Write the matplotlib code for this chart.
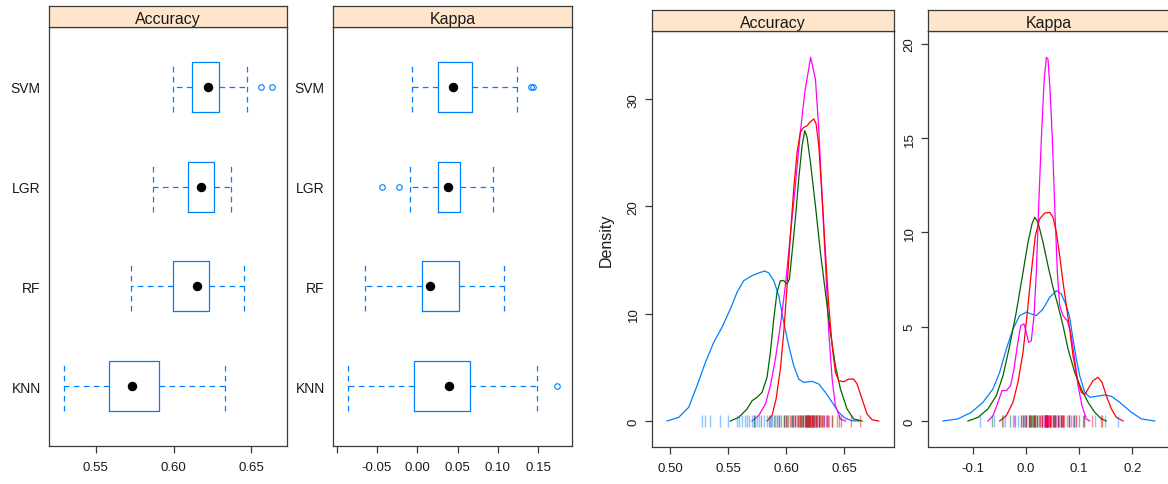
import matplotlib
matplotlib.use("Agg")
import matplotlib.pyplot as plt

plt.rcParams['font.family'] = ['Liberation Sans', 'DejaVu Sans']
plt.rcParams['axes.unicode_minus'] = False

# modelos de abajo hacia arriba en el bwplot
modelos = ['KNN', 'RF', 'LGR', 'SVM']

# resumen de cajas - Accuracy
acc_whislo = [0.5295, 0.5727, 0.5867, 0.5999]
acc_q1 = [0.5587, 0.5999, 0.6092, 0.6118]
acc_med = [0.5731, 0.6151, 0.6175, 0.6222]
acc_q3 = [0.5907, 0.6227, 0.6260, 0.6293]
acc_whishi = [0.6331, 0.6452, 0.6367, 0.6471]
acc_out = [[], [], [], [0.6561, 0.6633]]

# resumen de cajas - Kappa
kap_whislo = [-0.0858, -0.0643, -0.0092, -0.0060]
kap_q1 = [-0.0046, 0.0055, 0.0262, 0.0262]
kap_med = [0.0391, 0.0161, 0.0376, 0.0445]
kap_q3 = [0.0656, 0.0519, 0.0529, 0.0684]
kap_whishi = [0.1491, 0.1070, 0.0942, 0.1235]
kap_out = [[0.1731], [], [-0.0440, -0.0225], [0.1410, 0.1432]]

# curvas de densidad - Accuracy
knn_acc_x = [0.4974, 0.5075, 0.5161, 0.5233, 0.5305, 0.5377, 0.5448, 0.5520, 0.5578, 0.5635, 0.5707,
             0.5764, 0.5816, 0.5851, 0.5894, 0.5937, 0.5980, 0.6023, 0.6066, 0.6109, 0.6152, 0.6224,
             0.6282, 0.6339, 0.6397, 0.6454, 0.6511, 0.6569, 0.6627]
knn_acc_y = [0, 0.34, 1.28, 3.29, 5.46, 7.33, 8.73, 10.44, 12.0, 13.08, 13.55,
             13.80, 13.98, 13.80, 13.08, 11.69, 9.20, 7.02, 5.16, 3.91, 3.60, 3.70,
             3.45, 2.67, 1.74, 0.81, 0.25, 0.03, 0]
rf_acc_x = [0.5520, 0.5592, 0.5664, 0.5707, 0.5750, 0.5793, 0.5836, 0.5865, 0.5894, 0.5922, 0.5951,
            0.5980, 0.6009, 0.6029, 0.6052, 0.6080, 0.6109, 0.6138, 0.6161, 0.6181, 0.6210, 0.6253,
            0.6296, 0.6339, 0.6382, 0.6425, 0.6468, 0.6526, 0.6583, 0.6655]
rf_acc_y = [0, 0.34, 1.12, 1.89, 2.21, 2.67, 4.07, 6.41, 9.51, 12.0, 13.08,
            13.08, 12.77, 13.24, 15.72, 18.83, 22.55, 25.66, 27.06, 26.44, 24.11, 20.07,
            15.72, 12.0, 8.26, 5.16, 3.0, 1.12, 0.19, 0]
lgr_acc_x = [0.5707, 0.5764, 0.5822, 0.5865, 0.5908, 0.5951, 0.5994, 0.6037, 0.6080, 0.6123, 0.6161,
             0.6212, 0.6253, 0.6282, 0.6310, 0.6339, 0.6368, 0.6397, 0.6425, 0.6468, 0.6511]
lgr_acc_y = [0, 0.50, 1.58, 3.29, 5.78, 8.88, 12.61, 17.27, 21.93, 26.90, 30.63,
             33.9, 31.87, 27.21, 21.0, 14.79, 8.26, 3.91, 1.43, 0.19, 0]
svm_acc_x = [0.5836, 0.5879, 0.5914, 0.5951, 0.5980, 0.6009, 0.6037, 0.6066, 0.6095, 0.6123, 0.6152,
             0.6181, 0.6210, 0.6239, 0.6259, 0.6282, 0.6310, 0.6339, 0.6368, 0.6397, 0.6425, 0.6454,
             0.6497, 0.6540, 0.6583, 0.6612, 0.6655, 0.6698, 0.6741, 0.6799]
svm_acc_y = [0, 0.50, 2.05, 4.85, 8.26, 12.61, 17.27, 21.62, 25.04, 26.90, 27.37,
             27.52, 27.90, 28.15, 27.68, 25.66, 21.0, 15.72, 10.75, 7.02, 4.54, 3.76,
             3.66, 3.91, 3.91, 3.45, 2.05, 0.65, 0.12, 0]

# curvas de densidad - Kappa
knn_kap_x = [-0.1563, -0.1281, -0.1030, -0.0810, -0.0621, -0.0496, -0.0370, -0.0245, -0.0119, 0.0006,
             0.0100, 0.0195, 0.0320, 0.0446, 0.0571, 0.0665, 0.0759, 0.0822, 0.0885, 0.0948,
             0.1011, 0.1105, 0.1199, 0.1325, 0.1481, 0.1607, 0.1764, 0.1984, 0.2172, 0.2423]
knn_kap_y = [0, 0.11, 0.46, 0.99, 1.70, 2.58, 3.82, 4.88, 5.59, 5.77,
             5.68, 5.59, 5.94, 6.56, 6.91, 6.74, 6.12, 5.50, 4.35, 3.29,
             2.40, 1.52, 1.26, 1.31, 1.38, 1.31, 0.99, 0.46, 0.11, 0]
rf_kap_x = [-0.1092, -0.0904, -0.0716, -0.0559, -0.0433, -0.0307, -0.0183, -0.0056, 0.0038, 0.0113,
            0.0164, 0.0226, 0.0320, 0.0414, 0.0508, 0.0603, 0.0697, 0.0791, 0.0917, 0.1041,
            0.1168, 0.1294, 0.1418, 0.1512]
rf_kap_y = [0, 0.19, 0.64, 1.34, 2.40, 3.99, 5.77, 7.89, 9.48, 10.45,
            10.81, 10.54, 9.48, 8.24, 7.09, 6.12, 5.06, 3.82, 2.58, 1.70,
            0.99, 0.46, 0.11, 0]
lgr_kap_x = [-0.0716, -0.0621, -0.0527, -0.0452, -0.0370, -0.0289, -0.0226, -0.0163, -0.0100, -0.0038,
             0.0006, 0.0050, 0.0100, 0.0151, 0.0195, 0.0239, 0.0289, 0.0339, 0.0383, 0.0414,
             0.0452, 0.0496, 0.0540, 0.0590, 0.0634, 0.0697, 0.0778, 0.0841, 0.0917, 0.0979,
             0.1055, 0.1136, 0.1199]
lgr_kap_y = [0, 0.28, 0.99, 1.61, 1.61, 1.87, 2.76, 3.99, 5.06, 5.15,
             4.70, 4.17, 4.26, 5.59, 7.89, 11.42, 14.96, 17.97, 19.29, 19.20,
             17.61, 14.96, 11.42, 7.89, 6.12, 5.59, 5.32, 4.70, 3.29, 1.87,
             0.81, 0.11, 0]
svm_kap_x = [-0.0496, -0.0370, -0.0245, -0.0151, -0.0056, 0.0025, 0.0100, 0.0176, 0.0257, 0.0351,
             0.0446, 0.0508, 0.0571, 0.0634, 0.0697, 0.0759, 0.0822, 0.0885, 0.0966, 0.1041,
             0.1105, 0.1168, 0.1262, 0.1356, 0.1431, 0.1512, 0.1607, 0.1701, 0.1827]
svm_kap_y = [0, 0.28, 0.99, 2.05, 3.64, 5.77, 7.89, 9.83, 10.72, 11.03,
             11.07, 10.81, 10.01, 8.77, 7.36, 6.12, 4.88, 3.46, 2.23, 1.52,
             1.38, 1.70, 2.14, 2.32, 2.05, 1.34, 0.64, 0.19, 0]

# valores de cada remuestreo (marcas sobre el eje)
knn_acc = [0.5276, 0.5305, 0.5348, 0.5434, 0.5500, 0.5578, 0.5598, 0.5621, 0.5649, 0.5660,
           0.5678, 0.5707, 0.5720, 0.5731, 0.5750, 0.5764, 0.5808, 0.5836, 0.5865, 0.5880,
           0.5907, 0.5920, 0.5937, 0.5980, 0.6050, 0.6180, 0.6230, 0.6280, 0.6331]
rf_acc = [0.5727, 0.5780, 0.5850, 0.5900, 0.5940, 0.5960, 0.5980, 0.5999, 0.6020, 0.6050,
          0.6080, 0.6100, 0.6120, 0.6140, 0.6150, 0.6160, 0.6170, 0.6180, 0.6190, 0.6200,
          0.6210, 0.6227, 0.6240, 0.6260, 0.6280, 0.6310, 0.6350, 0.6400, 0.6452]
lgr_acc = [0.5867, 0.5920, 0.5980, 0.6010, 0.6040, 0.6060, 0.6080, 0.6092, 0.6110, 0.6130,
           0.6150, 0.6160, 0.6170, 0.6175, 0.6178, 0.6190, 0.6200, 0.6210, 0.6220, 0.6230,
           0.6245, 0.6260, 0.6270, 0.6285, 0.6300, 0.6320, 0.6340, 0.6355, 0.6367]
svm_acc = [0.5999, 0.6030, 0.6060, 0.6080, 0.6100, 0.6118, 0.6130, 0.6150, 0.6170, 0.6190,
           0.6200, 0.6210, 0.6215, 0.6222, 0.6225, 0.6235, 0.6250, 0.6260, 0.6270, 0.6280,
           0.6293, 0.6310, 0.6330, 0.6360, 0.6400, 0.6440, 0.6471, 0.6561, 0.6633]
knn_kap = [-0.0858, -0.0600, -0.0400, -0.0250, -0.0150, -0.0046, 0.0000, 0.0050, 0.0100, 0.0150,
           0.0200, 0.0300, 0.0350, 0.0380, 0.0391, 0.0400, 0.0450, 0.0500, 0.0550, 0.0600,
           0.0620, 0.0656, 0.0700, 0.0800, 0.0900, 0.1100, 0.1300, 0.1491, 0.1731]
rf_kap = [-0.0643, -0.0450, -0.0300, -0.0200, -0.0100, -0.0050, 0.0000, 0.0055, 0.0080, 0.0100,
          0.0120, 0.0140, 0.0150, 0.0161, 0.0170, 0.0200, 0.0250, 0.0300, 0.0350, 0.0400,
          0.0519, 0.0550, 0.0600, 0.0650, 0.0700, 0.0800, 0.0900, 0.1000, 0.1070]
lgr_kap = [-0.0440, -0.0225, -0.0092, -0.0020, 0.0050, 0.0150, 0.0262, 0.0300, 0.0330, 0.0350,
           0.0360, 0.0370, 0.0376, 0.0380, 0.0390, 0.0400, 0.0410, 0.0420, 0.0450, 0.0500,
           0.0529, 0.0560, 0.0600, 0.0650, 0.0700, 0.0800, 0.0880, 0.0942]
svm_kap = [-0.0060, 0.0000, 0.0080, 0.0150, 0.0200, 0.0262, 0.0300, 0.0350, 0.0380, 0.0400,
           0.0420, 0.0430, 0.0445, 0.0450, 0.0460, 0.0480, 0.0500, 0.0550, 0.0600, 0.0650,
           0.0684, 0.0720, 0.0780, 0.0850, 0.0950, 0.1100, 0.1235, 0.1410, 0.1432]

# colores de lattice (superpose.line)
col_caja = '#0080ff'
col_knn = '#0080ff'
col_lgr = '#ff00ff'
col_rf = '#006400'
col_svm = '#ff0000'
col_strip = '#ffe5cc'
col_borde = '#3a3a3a'

W, H = 1168, 485
fig = plt.figure(figsize=(W / 100, H / 100), dpi=100)


def caja(x0, x1, y0, y1):
    # convierte pixeles a fracciones de figura
    return [x0 / W, (H - y1) / H, (x1 - x0) / W, (y1 - y0) / H]


def panel(x0, x1, ytop, ybot, strip_top, titulo):
    ax = fig.add_axes(caja(x0, x1, ytop, ybot))
    st = fig.add_axes(caja(x0, x1, strip_top, ytop))
    st.set_facecolor(col_strip)
    st.set_xticks([])
    st.set_yticks([])
    st.text(0.5, 0.42, titulo, ha='center', va='center', fontsize=11.5, color='#1a1a1a')
    for a in (ax, st):
        for s in a.spines.values():
            s.set_color(col_borde)
            s.set_linewidth(0.9)
    ax.tick_params(axis='both', colors=col_borde, labelcolor='#1a1a1a', labelsize=9.5,
                   length=5, width=0.9, pad=4)
    return ax


def bwplot(ax, whislo, q1, med, q3, whishi, out):
    stats = []
    for i in range(len(modelos)):
        stats.append({'whislo': whislo[i], 'q1': q1[i], 'med': med[i], 'q3': q3[i],
                      'whishi': whishi[i], 'fliers': out[i]})
    pos = list(range(1, len(modelos) + 1))
    guion = (0, (4.5, 3.5))
    ax.bxp(stats, positions=pos, widths=0.5, capwidths=0.5, orientation='horizontal',
           boxprops=dict(color=col_caja, linewidth=0.9),
           whiskerprops=dict(color=col_caja, linewidth=0.9, linestyle=guion),
           capprops=dict(color=col_caja, linewidth=0.9, linestyle=guion),
           medianprops=dict(linewidth=0),
           flierprops=dict(marker='o', markersize=4, markerfacecolor='none',
                           markeredgecolor=col_caja, markeredgewidth=0.8),
           manage_ticks=False)
    ax.plot(med, pos, 'o', color='black', markersize=5.8, zorder=5)
    ax.set_ylim(0.4, 4.6)
    ax.set_yticks(pos)
    ax.set_yticklabels(modelos, fontsize=10)
    ax.tick_params(axis='y', length=0, pad=6)
    ax.tick_params(axis='x', length=5, pad=6)


def densidad(ax, curvas, rugs):
    for (x, y, c) in curvas:
        ax.plot(x, y, color=c, linewidth=0.9)
    for (v, c) in rugs:
        ax.plot(v, [0] * len(v), linestyle='none', marker='|', markersize=9,
                markeredgewidth=1.0, color=c, alpha=0.45)
    ax.tick_params(axis='y', labelrotation=90)
    for lab in ax.get_yticklabels():
        lab.set_va('center')
    ax.tick_params(axis='x', pad=6)


# bwplot Accuracy
ax1 = panel(49, 287, 28, 447, 7, 'Accuracy')
bwplot(ax1, acc_whislo, acc_q1, acc_med, acc_q3, acc_whishi, acc_out)
ax1.set_xlim(0.5199, 0.673)
ax1.set_xticks([0.55, 0.60, 0.65])
ax1.set_xticklabels(['0.55', '0.60', '0.65'])

# bwplot Kappa
ax2 = panel(333, 572, 28, 447, 7, 'Kappa')
bwplot(ax2, kap_whislo, kap_q1, kap_med, kap_q3, kap_whishi, kap_out)
ax2.set_xlim(-0.1046, 0.192)
ax2.set_xticks([-0.10, -0.05, 0.0, 0.05, 0.10, 0.15])
ax2.set_xticklabels(['', '-0.05', '0.00', '0.05', '0.10', '0.15'])

# densityplot Accuracy
ax3 = panel(652, 894, 32, 448, 11, 'Accuracy')
ax3.set_xlim(0.4845, 0.693)
ax3.set_ylim(-2.42, 36.35)
ax3.set_xticks([0.50, 0.55, 0.60, 0.65])
ax3.set_xticklabels(['0.50', '0.55', '0.60', '0.65'])
ax3.set_yticks([0, 10, 20, 30])
densidad(ax3,
         [(knn_acc_x, knn_acc_y, col_knn), (lgr_acc_x, lgr_acc_y, col_lgr),
          (rf_acc_x, rf_acc_y, col_rf), (svm_acc_x, svm_acc_y, col_svm)],
         [(knn_acc, col_knn), (lgr_acc, col_lgr), (rf_acc, col_rf), (svm_acc, col_svm)])
ax3.set_ylabel('Density', fontsize=11.5, color='#1a1a1a', labelpad=10)

# densityplot Kappa
ax4 = panel(928, 1170, 32, 448, 11, 'Kappa')
ax4.set_xlim(-0.1844, 0.271)
ax4.set_ylim(-1.38, 20.69)
ax4.set_xticks([-0.1, 0.0, 0.1, 0.2])
ax4.set_xticklabels(['-0.1', '0.0', '0.1', '0.2'])
ax4.set_yticks([0, 5, 10, 15, 20])
densidad(ax4,
         [(knn_kap_x, knn_kap_y, col_knn), (lgr_kap_x, lgr_kap_y, col_lgr),
          (rf_kap_x, rf_kap_y, col_rf), (svm_kap_x, svm_kap_y, col_svm)],
         [(knn_kap, col_knn), (lgr_kap, col_lgr), (rf_kap, col_rf), (svm_kap, col_svm)])

fig.savefig('out.png', dpi=100)
